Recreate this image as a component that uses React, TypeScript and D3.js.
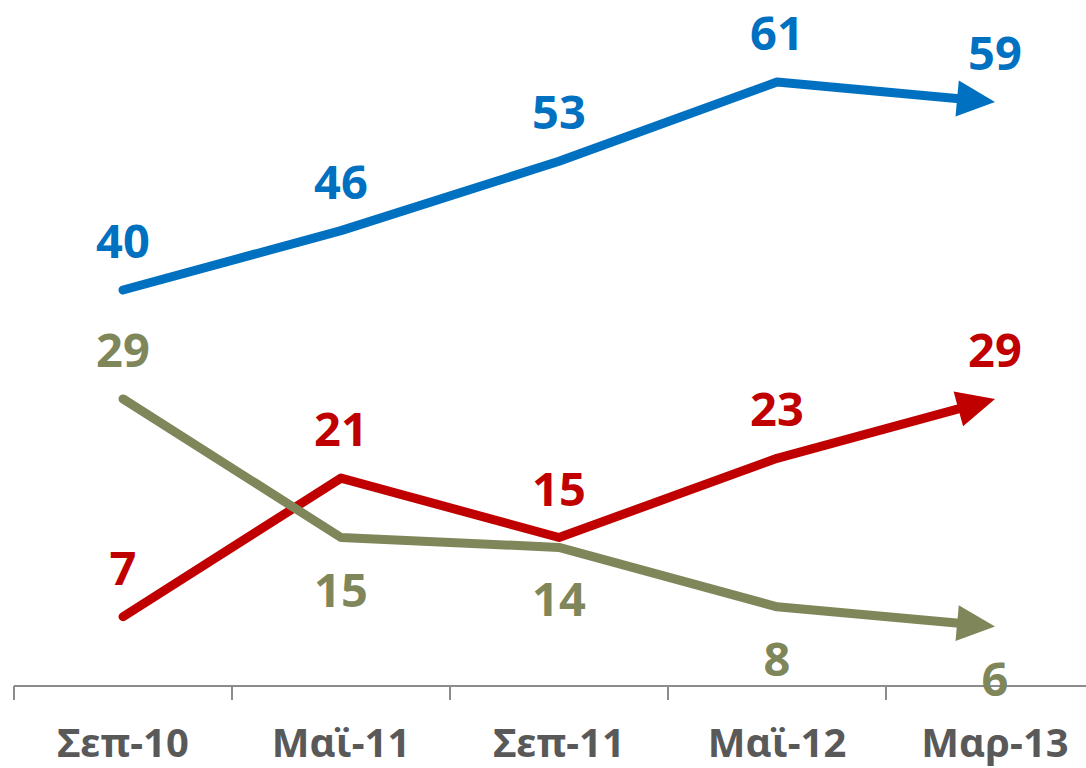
import React from 'react';
import * as d3 from 'd3';

const categories = ['Σεπ-10', 'Μαϊ-11', 'Σεπ-11', 'Μαϊ-12', 'Μαρ-13'];
const blueValues = [40, 46, 53, 61, 59];
const redValues = [7, 21, 15, 23, 29];
const greenValues = [29, 15, 14, 8, 6];
// label placement per point: above or below
const greenLabelPos = ['above', 'below', 'below', 'below', 'below'];

const W = 1086, H = 768;
const FONT = '"Noto Sans", "Open Sans", "DejaVu Sans", sans-serif';

type Series = { name: string; values: number[]; color: string; pos: string[] };

const series: Series[] = [
    { name: 'blue', values: blueValues, color: '#0070C0', pos: blueValues.map(() => 'above') },
    { name: 'red', values: redValues, color: '#C00000', pos: redValues.map(() => 'above') },
    { name: 'green', values: greenValues, color: '#7F865A', pos: greenLabelPos },
];

export default function App() {
    const x = d3.scaleBand().domain(categories).range([14, 1104]);
    const y = d3.scaleLinear().domain([0, 60]).range([686, 92]);
    const cx = (c: string) => x(c)! + x.bandwidth() / 2;
    const axisY = y(0);
    const sw = 9, headLen = 38, headHalf = 18;

    return (
        <svg width={W} height={H} viewBox={`0 0 ${W} ${H}`}
            style={{ position: 'absolute', left: 0, top: 0, background: '#fff' }}>
            {/* axis */}
            <line x1={14} x2={W} y1={axisY} y2={axisY} stroke="#8c8c8c" strokeWidth={2} />
            {categories.map(c => (
                <line key={c} x1={x(c)!} x2={x(c)!} y1={axisY} y2={axisY + 14} stroke="#8c8c8c" strokeWidth={2} />
            ))}
            {categories.map(c => (
                <text key={'l' + c} x={cx(c)} y={757} textAnchor="middle" fontFamily={FONT}
                    fontWeight="bold" fontSize={40} fill="#595959">{c}</text>
            ))}
            {series.map(s => {
                const pts: [number, number][] = s.values.map((v, i) => [cx(categories[i]), y(v)]);
                const [tx, ty] = pts[pts.length - 1];
                const [px, py] = pts[pts.length - 2];
                const dx = tx - px, dy = ty - py, len = Math.hypot(dx, dy);
                const ux = dx / len, uy = dy / len;
                const bx = tx - ux * headLen, by = ty - uy * headLen;
                const linePts = pts.slice(0, -1).concat([[bx + ux * 2, by + uy * 2]]);
                const line = d3.line();
                const head = [
                    [tx, ty],
                    [bx - uy * headHalf, by + ux * headHalf],
                    [bx + uy * headHalf, by - ux * headHalf],
                ].map(p => p.join(',')).join(' ');
                return (
                    <g key={s.name}>
                        <path d={line(linePts)!} fill="none" stroke={s.color} strokeWidth={sw}
                            strokeLinejoin="round" strokeLinecap="round" />
                        <polygon points={head} fill={s.color} />
                        {s.values.map((v, i) => {
                            const [lx, ly] = pts[i];
                            const above = s.pos[i] === 'above';
                            return (
                                <text key={i} x={lx} y={above ? ly - 32 : ly + 69} textAnchor="middle"
                                    fontFamily={FONT} fontWeight="bold" fontSize={47} fill={s.color}>{v}</text>
                            );
                        })}
                    </g>
                );
            })}
        </svg>
    );
}
